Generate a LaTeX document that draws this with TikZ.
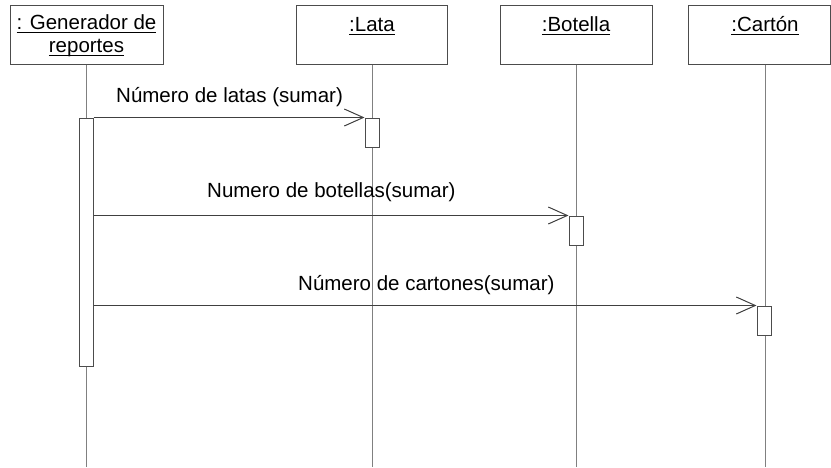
\documentclass[tikz,border=0pt]{standalone}
\usepackage{fontspec}
\setmainfont{Liberation Sans}
\usetikzlibrary{arrows.meta}
\newcommand{\myul}[1]{\setbox0\hbox{#1}\rlap{\rule[-3.6pt]{\wd0}{1.1pt}}\box0}
\begin{document}
\begin{tikzpicture}[x=1pt,y=-1pt,
  font=\fontsize{20.5pt}{24pt}\selectfont,
  obj/.style={draw=black!70, line width=1pt, fill=white, minimum height=59pt, inner sep=0pt},
  act/.style={draw=black!70, line width=1pt, fill=white, minimum width=14pt, inner sep=0pt},
  life/.style={draw=black!50, line width=1pt},
  msg/.style={draw=black!75, line width=1pt, -{Straight Barb[length=19pt,width=17pt,line width=1pt]}},
  lbl/.style={inner sep=0pt, anchor=base}]
\useasboundingbox (0,0) rectangle (831,467);
% object boxes
\node[obj, minimum width=153pt] (g) at (86.5,34.5) {};
\node[obj, minimum width=151pt] (l) at (372,34.5) {};
\node[obj, minimum width=152pt] (b) at (576,34.5) {};
\node[obj, minimum width=142pt] (c) at (759,34.5) {};
\node[lbl] (gt1) at (86.5,29) {\myul{: Generador de}};
\node[lbl] (gt2) at (86.5,52) {\myul{reportes}};
\node[lbl] (lt) at (372,31) {\myul{:Lata}};
\node[lbl] (bt) at (576,31) {\myul{:Botella}};
\node[lbl] (ct) at (765,31) {\myul{:Cartón}};
% lifeline ends
\coordinate (ge) at (86.5,467);
\coordinate (le) at (372,467);
\coordinate (be) at (576,467);
\coordinate (ce) at (765,467);
\draw[life] (g.south) -- (ge);
\draw[life] (l.south) -- (le);
\draw[life] (b.south) -- (be);
\draw[life] (c.south -| ce) -- (ce);
% activations
\node[act, minimum height=248pt] (ga) at (86,242) {};
\node[act, minimum height=29pt] (la) at (372,132.5) {};
\node[act, minimum height=29pt] (ba) at (576,230.5) {};
\node[act, minimum height=29pt] (ca) at (764,320.5) {};
% messages
\draw[msg] (ga.east |- la.north west) -- (la.north west);
\draw[msg] (ga.east |- ba.north west) -- (ba.north west);
\draw[msg] (ga.east |- ca.north west) -- (ca.north west);
\node[lbl, anchor=base west] (m1) at (116,102) {Número de latas (sumar)};
\node[lbl, anchor=base west] (m2) at (207,197) {Numero de botellas(sumar)};
\node[lbl, anchor=base west] (m3) at (298,290) {Número de cartones(sumar)};
\end{tikzpicture}
\end{document}
